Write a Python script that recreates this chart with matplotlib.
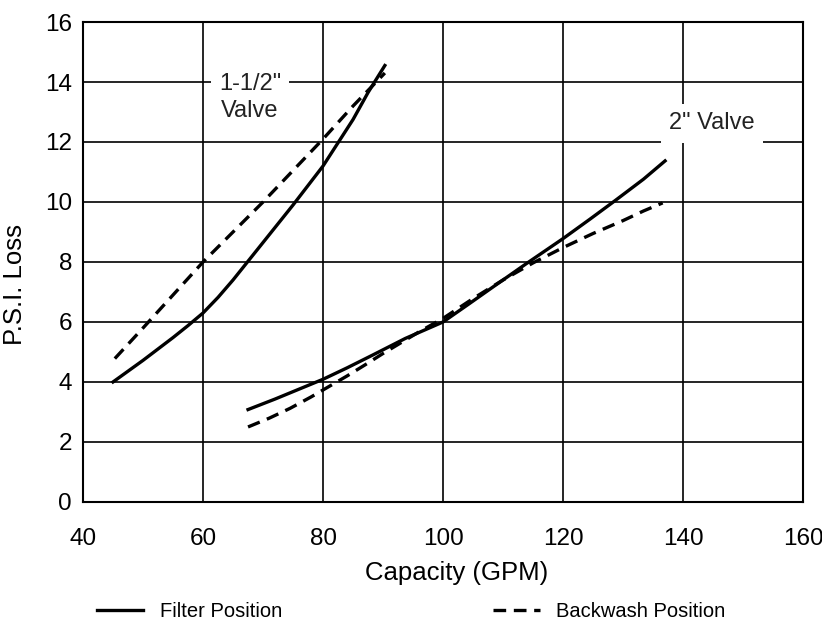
import matplotlib.pyplot as plt
import matplotlib as mpl
from matplotlib.lines import Line2D

mpl.rcParams['font.family'] = ['Liberation Sans', 'DejaVu Sans']

# 1-1/2" valve
small_filter_x = [45, 50, 55, 57.5, 60, 62.5, 65, 70, 75, 80, 85, 87.5, 90.3]
small_filter_y = [4.0, 4.72, 5.48, 5.88, 6.3, 6.82, 7.4, 8.65, 9.9, 11.2, 12.75, 13.65, 14.55]
small_back_x = [45.3, 50, 55, 60, 65, 70, 75, 80, 85, 90.3]
small_back_y = [4.78, 5.8, 6.9, 8.0, 9.0, 10.0, 11.05, 12.1, 13.2, 14.3]

# 2" valve
big_filter_x = [67.5, 72, 76, 80, 84, 88.2, 93.7, 100, 104.3, 108.7, 113.7, 120, 124.5, 128.7, 133.4, 137]
big_filter_y = [3.08, 3.43, 3.76, 4.09, 4.47, 4.89, 5.45, 6.0, 6.6, 7.22, 7.92, 8.78, 9.43, 10.05, 10.76, 11.37]
big_back_x = [67.5, 71, 74.5, 78, 81, 84, 87, 90, 93, 96, 100, 105, 110, 115, 120, 125, 130, 133.4, 136.6]
big_back_y = [2.5, 2.79, 3.12, 3.5, 3.85, 4.2, 4.57, 4.95, 5.31, 5.67, 6.12, 6.78, 7.4, 7.97, 8.48, 8.95, 9.38, 9.7, 9.97]

xticks = [40, 60, 80, 100, 120, 140, 160]
yticks = [0, 2, 4, 6, 8, 10, 12, 14, 16]

fig = plt.figure(figsize=(8.22, 6.29), dpi=100)
ax = fig.add_axes([0.101, 0.202, 0.876, 0.763])

lw = 2.4
dash = (3.8, 2.3)
ax.plot(small_filter_x, small_filter_y, color='black', lw=lw, zorder=3)
ax.plot(small_back_x, small_back_y, color='black', lw=lw, dashes=dash, zorder=3)
ax.plot(big_filter_x, big_filter_y, color='black', lw=lw, zorder=3)
ax.plot(big_back_x, big_back_y, color='black', lw=lw, dashes=dash, zorder=3)

ax.set_xlim(40, 160)
ax.set_ylim(0, 16)
ax.set_xticks(xticks)
ax.set_yticks(yticks)
ax.grid(True, color='black', lw=1.2)
ax.set_axisbelow(True)
for s in ax.spines.values():
    s.set_linewidth(1.5)
ax.tick_params(length=0, labelsize=17.5)
ax.tick_params(axis='x', pad=19)
ax.tick_params(axis='y', pad=8)
ax.set_xlabel('Capacity (GPM)', size=18.5)
ax.set_ylabel('P.S.I. Loss', size=18.5)
ax.xaxis.set_label_coords(0.519, -0.123)
ax.yaxis.set_label_coords(-0.078, 0.454)

ax.text(67.8, 13.48, '1-1/2"\nValve', ha='center', va='center', size=17,
        color='#222222', linespacing=1.25, zorder=2,
        bbox=dict(facecolor='white', edgecolor='none', pad=6))
ax.text(144.8, 12.62, '2" Valve', ha='center', va='center', size=17,
        color='#222222', zorder=2,
        bbox=dict(facecolor='white', edgecolor='none', pad=6))

handles = [Line2D([], [], color='black', lw=lw),
           Line2D([], [], color='black', lw=lw, dashes=dash)]
fig.legend(handles, ['Filter Position', 'Backwash Position'], loc='center',
           bbox_to_anchor=(0.5, 0.028), ncol=2, frameon=False, fontsize=14.5,
           handlelength=2.3, handletextpad=0.8, columnspacing=10.5)

plt.savefig('out.png', dpi=100)
